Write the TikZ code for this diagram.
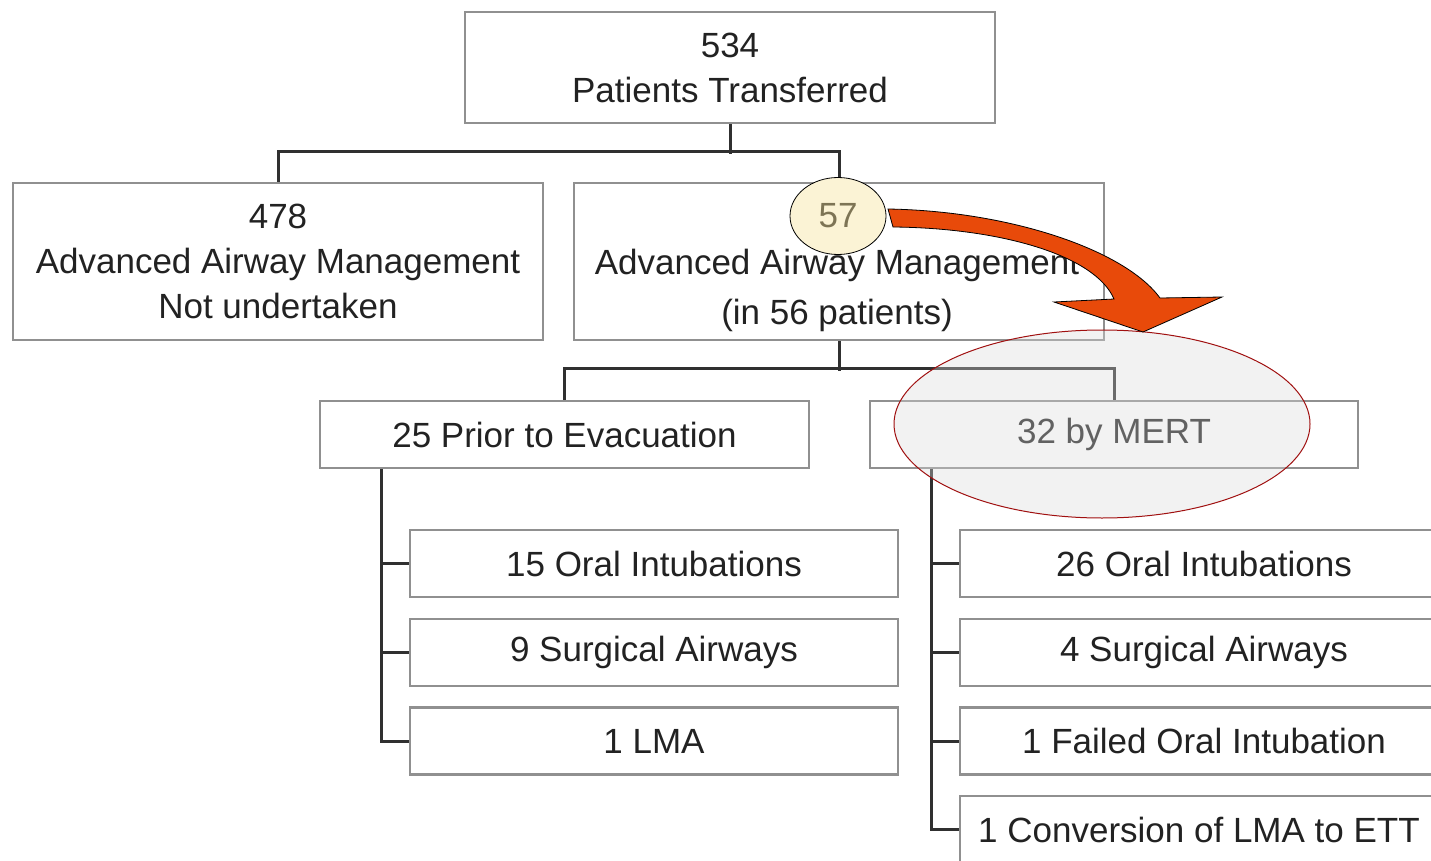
\documentclass[tikz,border=0pt]{standalone}
\usepackage{fontspec}
\setmainfont{Liberation Sans}
\usetikzlibrary{shapes.geometric}
\definecolor{boxline}{HTML}{909090}
\definecolor{connline}{HTML}{303030}
\definecolor{txt}{HTML}{222222}
\definecolor{paleyellow}{HTML}{FBF3D5}
\definecolor{olivetxt}{HTML}{7D7455}
\definecolor{arroworange}{HTML}{E84A0A}
\definecolor{ringred}{HTML}{A01010}
\definecolor{ringfill}{HTML}{DADADA}
\begin{document}
\begin{tikzpicture}[x=1pt,y=-1pt,
  box/.style={draw=boxline, line width=2.2pt, fill=white, inner sep=0pt, text=txt,
    font=\fontsize{35}{45}\selectfont, align=center},
  label text/.style={inner sep=0pt, text=txt, font=\fontsize{35}{50}\selectfont, align=center},
  conn/.style={draw=connline, line width=3pt}]
\useasboundingbox (0,0) rectangle (1431,861);
\clip (0,0) rectangle (1431,861);
% level 0
\node[box, minimum width=530, minimum height=111] (top) at (730,67.5) {534\\Patients Transferred};
% level 1
\node[box, minimum width=530, minimum height=157] (left) at (278,261.5) {478\\Advanced Airway Management\\Not undertaken};
\node[box, minimum width=530, minimum height=157] (mid) at (839,261.5) {};
\node[label text] (midtext) at (837,290) {Advanced Airway Management\\(in 56 patients)};
% level 2
\node[box, minimum width=489, minimum height=67] (prior) at (564.5,434.5) {25 Prior to Evacuation};
\node[box, minimum width=488, minimum height=67] (mert) at (1114,434.5) {32 by MERT};
% leaves left
\node[box, minimum width=488, minimum height=67] (l1) at (654,563.5) {15 Oral Intubations};
\node[box, minimum width=488, minimum height=67] (l2) at (654,652.5) {9 Surgical Airways};
\node[box, minimum width=488, minimum height=67] (l3) at (654,741) {1 LMA};
% leaves right
\node[box, minimum width=488, minimum height=67] (r1) at (1204,563.5) {26 Oral Intubations};
\node[box, minimum width=488, minimum height=67] (r2) at (1204,652.5) {4 Surgical Airways};
\node[box, minimum width=488, minimum height=67] (r3) at (1204,741) {1 Failed Oral Intubation};
\node[box, minimum width=478, minimum height=67] (r4) at (1199,829.5) {1 Conversion of LMA to ETT};
% connectors
\draw[conn] (top.south) -- ++(0,30);
\draw[conn] (left.north) -- ++(0,-30) -| (mid.north);
\draw[conn] (mid.south) -- ++(0,30);
\draw[conn] (prior.north) -- ++(0,-31) -| (mert.north);
\coordinate (ls) at ([xshift=-183.5pt]prior.south);
\draw[conn] (ls) |- (l3.west);
\draw[conn] (ls |- l1.west) -- (l1.west);
\draw[conn] (ls |- l2.west) -- (l2.west);
\coordinate (rs) at ([xshift=-183pt]mert.south);
\draw[conn] (rs) |- (r4.west);
\draw[conn] (rs |- r1.west) -- (r1.west);
\draw[conn] (rs |- r2.west) -- (r2.west);
\draw[conn] (rs |- r3.west) -- (r3.west);
% highlight ring over MERT
\node[ellipse, draw=ringred, line width=1pt, fill=ringfill, fill opacity=0.35,
  minimum width=416, minimum height=188, inner sep=0pt] (ring) at (1102,424) {};
% 57 badge
\node[ellipse, draw=black, line width=0.8pt, fill=paleyellow, text=olivetxt,
  minimum width=96, minimum height=77, inner sep=0pt, font=\fontsize{35}{40}\selectfont] (n57) at (838,216) {57};
% curved arrow
\draw[fill=arroworange, draw=black, line width=0.8pt, line join=miter]
  (888,209) .. controls (1010,211) and (1125,250) .. (1160,298)
  -- (1222,297) -- (1143,332) -- (1054,302) -- (1114,299)
  .. controls (1095,255) and (1000,228) .. (893,227) -- cycle;
\end{tikzpicture}
\end{document}
